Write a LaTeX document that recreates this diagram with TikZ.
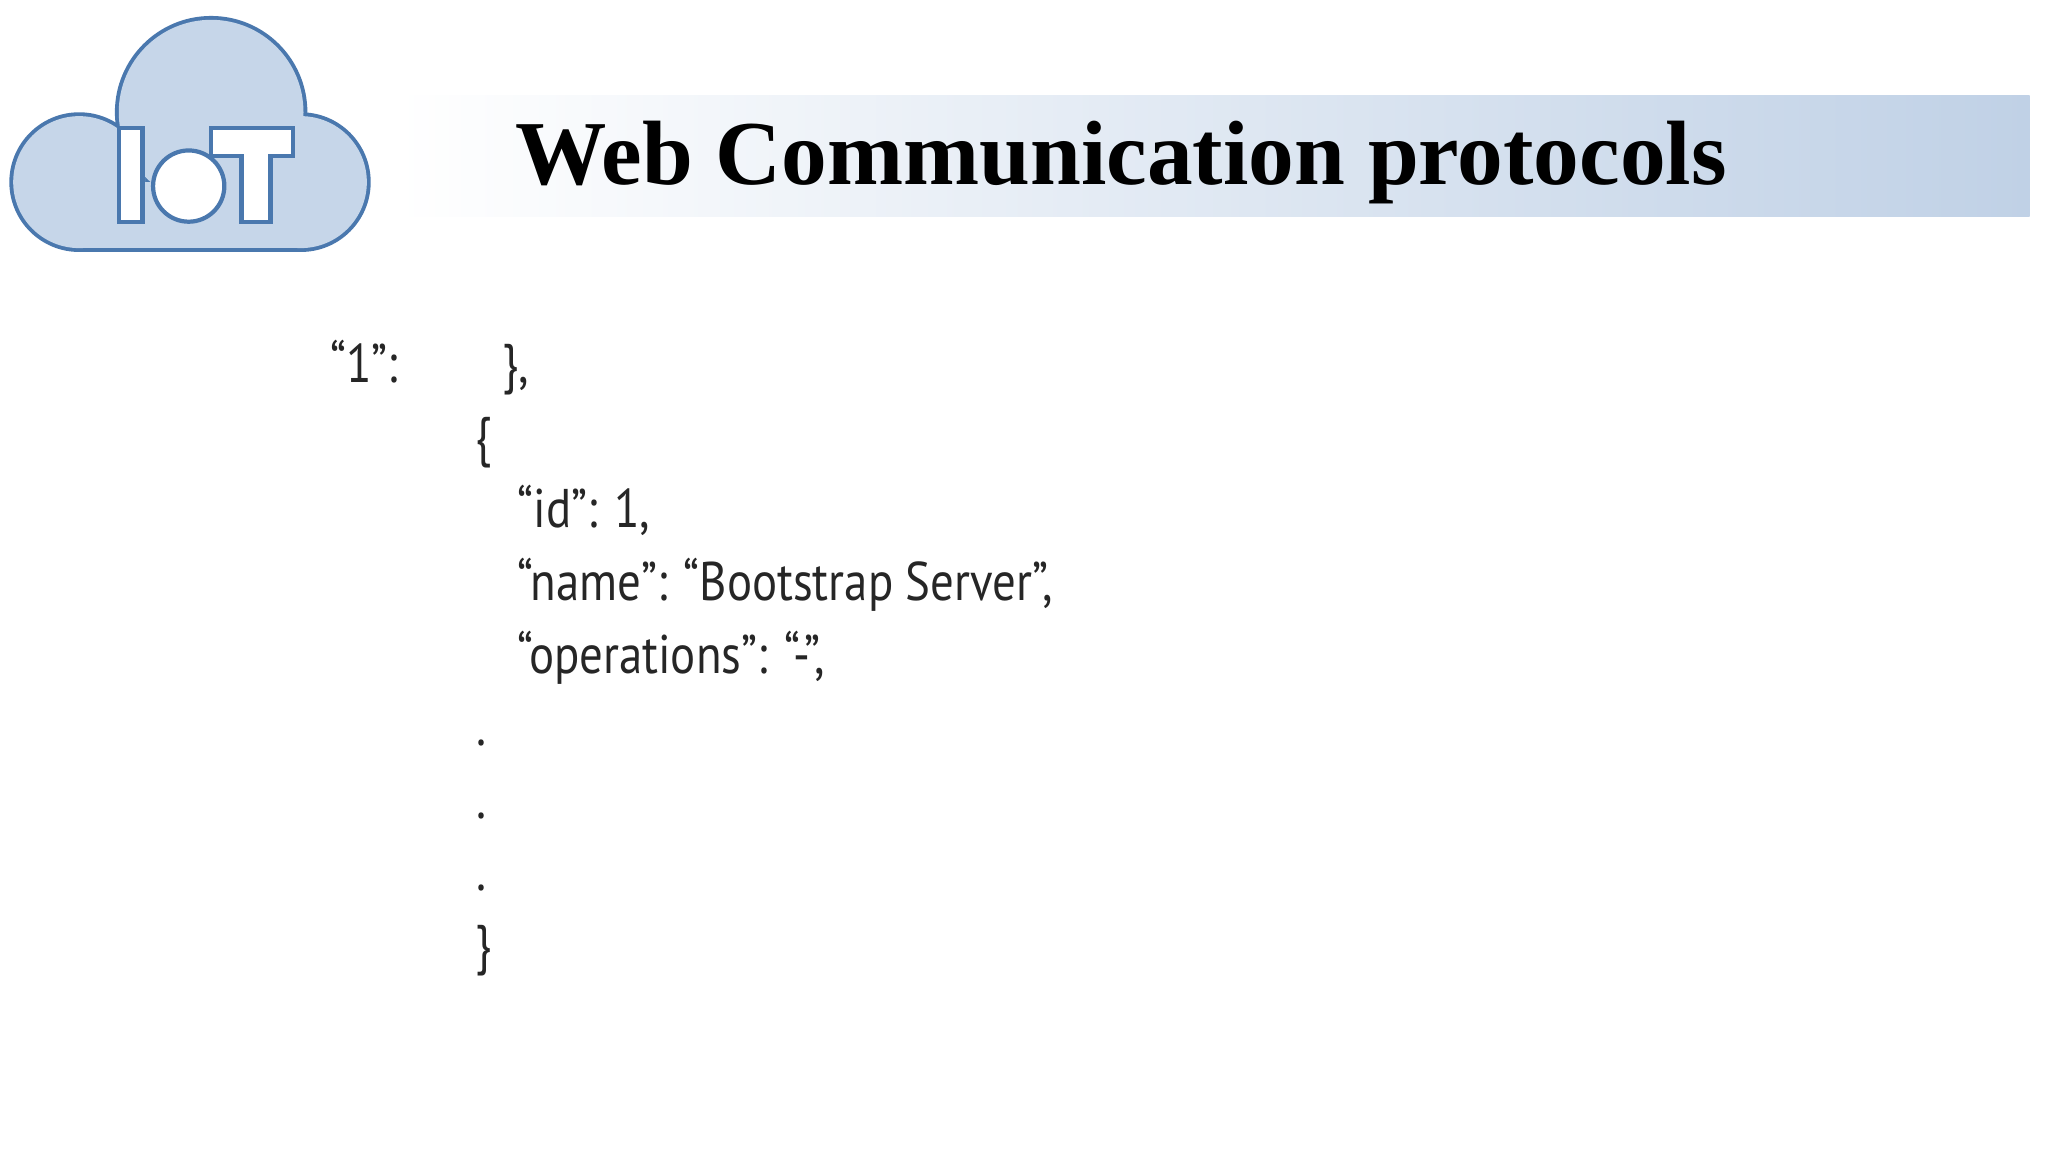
\documentclass[tikz,border=0pt]{standalone}
\usepackage{fontspec}
\setmainfont{Liberation Serif}
\newfontfamily\codefont{PT Sans}
\begin{document}
\begin{tikzpicture}[x=0.0132cm,y=-0.0132cm,
  code/.style={anchor=base west,inner sep=0pt,font=\codefont\fontsize{15.5}{18}\selectfont,xscale=0.86,text=black!85},
  letter/.style={fill=white,draw=cloudline,line width=1.2pt}]
\definecolor{cloudfill}{HTML}{C6D6E9}
\definecolor{cloudline}{HTML}{4A78AE}
\definecolor{bannerblue}{HTML}{C0D1E6}
\useasboundingbox (0,0) rectangle (1552,873);
\fill[white] (0,0) rectangle (1552,873);
% banner
\shade[left color=white,right color=bannerblue] (300,72) rectangle (1538,164);
\node[anchor=base west,inner sep=0pt,font=\bfseries\fontsize{26}{30}\selectfont] (title) at (390,140) {Web Communication protocols};
% cloud
\foreach \s in {{(60,138) circle (50)},{(228,138) circle (50)},{(160,85) circle (70)},{(60,138) rectangle (228,188)}}
  \draw[cloudline,line width=2.2pt] \s;
\foreach \s in {{(60,138) circle (50)},{(228,138) circle (50)},{(160,85) circle (70)},{(60,138) rectangle (228,188)}}
  \fill[cloudfill] \s;
\draw[letter] (90,97) rectangle (108,168);
\draw[letter] (143,141) circle (27);
\draw[letter] (160,97) -- (222,97) -- (222,118) -- (205,118) -- (205,168) -- (183,168) -- (183,118) -- (160,118) -- cycle;
% code
\node[code] (k1) at (250,290) {“1”:};
\node[code] (c1) at (380,290) {\},};
\node[code] (o1) at (360,345) {\{};
\node[code] (l1) at (392,400) {“id”: 1,};
\node[code] (l2) at (392,455) {“name”: “Bootstrap Server”,};
\node[code] (l3) at (392,510) {“operations”: “-”,};
\node[code] (d1) at (361,565) {.};
\node[code] (d2) at (361,620) {.};
\node[code] (d3) at (361,675) {.};
\node[code] (c2) at (360,730) {\}};
\end{tikzpicture}
\end{document}
